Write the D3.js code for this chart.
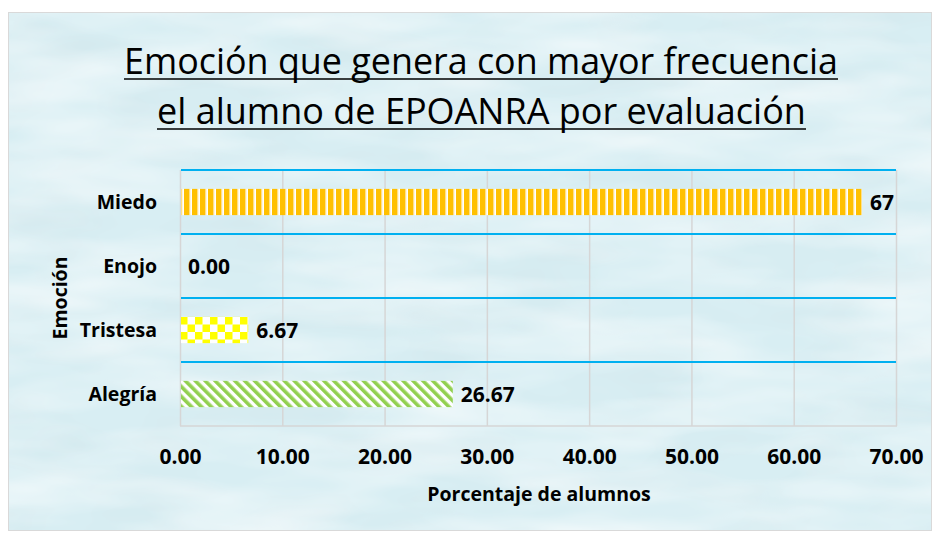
<!DOCTYPE html>
<html><head><meta charset="utf-8">
<script src="https://cdn.jsdelivr.net/npm/d3@7"></script>
<style>
html,body{margin:0;padding:0;background:#fff;}
svg{display:block;}
text{font-family:"Open Sans","Noto Sans",sans-serif;}
</style></head>
<body>
<script>
const categories = ["Miedo", "Enojo", "Tristesa", "Alegría"];
const values = [66.67, 0, 6.67, 26.67];
const valueLabels = ["67", "0.00", "6.67", "26.67"];
const patterns = ["vstripe", "none", "checker", "diag"];
const tickValues = [0, 10, 20, 30, 40, 50, 60, 70];
const titleLines = ["Emoción que genera con mayor frecuencia", "el alumno de EPOANRA por evaluación"];
const xTitle = "Porcentaje de alumnos";
const yTitle = "Emoción";

const W = 940, H = 535;
const svg = d3.select("body").append("svg").attr("width", W).attr("height", H);
const defs = svg.append("defs");

// background texture filter
const f = defs.append("filter").attr("id", "tex").attr("x", 0).attr("y", 0).attr("width", 1).attr("height", 1);
f.append("feTurbulence").attr("type", "fractalNoise").attr("baseFrequency", "0.006 0.025").attr("numOctaves", 3).attr("seed", 7).attr("result", "n");
f.append("feColorMatrix").attr("in", "n").attr("type", "matrix")
  .attr("values", "0 0 0 0 1  0 0 0 0 1  0 0 0 0 1  1.1 0 0 0 -0.38");
const f2 = defs.append("filter").attr("id", "tex2").attr("x", 0).attr("y", 0).attr("width", 1).attr("height", 1);
f2.append("feTurbulence").attr("type", "fractalNoise").attr("baseFrequency", "0.01 0.03").attr("numOctaves", 2).attr("seed", 3).attr("result", "n");
f2.append("feColorMatrix").attr("in", "n").attr("type", "matrix")
  .attr("values", "0 0 0 0 0.62  0 0 0 0 0.76  0 0 0 0 0.80  0.8 0 0 0 -0.34");

// bar patterns
const p1 = defs.append("pattern").attr("id", "vstripe").attr("patternUnits", "userSpaceOnUse").attr("width", 8).attr("height", 8);
p1.append("rect").attr("width", 8).attr("height", 8).attr("fill", "#ffffff");
p1.append("rect").attr("x", 0).attr("width", 5.5).attr("height", 8).attr("fill", "#FFC000");
p1.append("rect").attr("x", 5.5).attr("width", 0.8).attr("height", 8).attr("fill", "#ffe08a");

const p2 = defs.append("pattern").attr("id", "checker").attr("patternUnits", "userSpaceOnUse").attr("width", 15).attr("height", 15).attr("x", 180).attr("y", 317);
p2.append("rect").attr("width", 15).attr("height", 15).attr("fill", "#ffffff");
p2.append("rect").attr("width", 7.5).attr("height", 7.5).attr("fill", "#FFFF00");
p2.append("rect").attr("x", 7.5).attr("y", 7.5).attr("width", 7.5).attr("height", 7.5).attr("fill", "#FFFF00");

const p3 = defs.append("pattern").attr("id", "diag").attr("patternUnits", "userSpaceOnUse").attr("width", 7).attr("height", 7).attr("patternTransform", "rotate(-45)");
p3.append("rect").attr("width", 7).attr("height", 7).attr("fill", "#ffffff");
p3.append("rect").attr("width", 3.6).attr("height", 7).attr("fill", "#92D050");

// chart area
const area = {x: 8, y: 12, w: 924, h: 519};
svg.append("rect").attr("x", area.x).attr("y", area.y).attr("width", area.w).attr("height", area.h).attr("fill", "#d8eef3");
svg.append("rect").attr("x", area.x).attr("y", area.y).attr("width", area.w).attr("height", area.h).attr("filter", "url(#tex2)");
svg.append("rect").attr("x", area.x).attr("y", area.y).attr("width", area.w).attr("height", area.h).attr("filter", "url(#tex)");
svg.append("rect").attr("x", area.x + 0.5).attr("y", area.y + 0.5).attr("width", area.w - 1).attr("height", area.h - 1)
  .attr("fill", "none").attr("stroke", "#d9d9d9").attr("stroke-width", 1);

// title
const titleG = svg.append("g");
const titleBase = [74, 124];
const titleSpan = [[124, 838], [157, 806]];
titleLines.forEach((t, i) => {
  const tx = titleG.append("text").attr("x", (titleSpan[i][0] + titleSpan[i][1]) / 2).attr("y", titleBase[i])
    .attr("text-anchor", "middle").attr("font-size", 30).attr("fill", "#000").text(t);
  const len = tx.node().getComputedTextLength();
  const target = titleSpan[i][1] - titleSpan[i][0];
  tx.attr("font-size", 30 * target / len);
  titleG.append("line").attr("x1", titleSpan[i][0]).attr("x2", titleSpan[i][1])
    .attr("y1", titleBase[i] + 5).attr("y2", titleBase[i] + 5).attr("stroke", "#000").attr("stroke-width", 1.6);
});

// scales
const x = d3.scaleLinear().domain([0, 70]).range([180, 896]);
const y = d3.scaleBand().domain(categories).range([170, 426]).paddingInner(0.59).paddingOuter(0.295);
const step = y.step();

// vertical gridlines
svg.append("g").selectAll("line").data(tickValues).join("line")
  .attr("x1", d => x(d) + 0.5).attr("x2", d => x(d) + 0.5).attr("y1", 170).attr("y2", 426)
  .attr("stroke", "#d6d6d6").attr("stroke-width", 1.5);
// bottom border
svg.append("line").attr("x1", x(0)).attr("x2", x(70) + 1).attr("y1", 426).attr("y2", 426).attr("stroke", "#d6d6d6").attr("stroke-width", 1.5);
// horizontal blue gridlines at category boundaries
svg.append("g").selectAll("line").data(categories).join("line")
  .attr("x1", x(0) + 1).attr("x2", x(70)).attr("y1", d => y(d) - y.paddingOuter() * step).attr("y2", d => y(d) - y.paddingOuter() * step)
  .attr("stroke", "#00B0F0").attr("stroke-width", 2);

// bars
svg.append("g").selectAll("rect").data(categories).join("rect")
  .attr("x", x(0) + 1).attr("y", d => y(d))
  .attr("width", (d, i) => Math.max(0, x(values[i]) - x(0) - 1)).attr("height", y.bandwidth())
  .attr("fill", (d, i) => patterns[i] === "none" ? "none" : `url(#${patterns[i]})`);

// value labels
svg.append("g").selectAll("text").data(categories).join("text")
  .attr("x", (d, i) => x(values[i]) + 8).attr("y", d => y(d) + y.bandwidth() / 2 + 7.5)
  .attr("font-size", 21).attr("font-weight", "bold").attr("fill", "#000")
  .text((d, i) => valueLabels[i]);

// category labels
svg.append("g").selectAll("text").data(categories).join("text")
  .attr("x", 157).attr("y", d => y(d) + y.bandwidth() / 2 + 7)
  .attr("text-anchor", "end").attr("font-size", 19.5).attr("font-weight", "bold").attr("fill", "#000")
  .text(d => d);

// x axis
const xAxis = svg.append("g").attr("transform", "translate(0,447)")
  .call(d3.axisBottom(x).tickValues(tickValues).tickSize(0).tickFormat(d3.format(".2f")));
xAxis.select(".domain").remove();
xAxis.selectAll("text").attr("font-size", 21).attr("font-weight", "bold").attr("fill", "#000")
  .attr("font-family", "'Open Sans', sans-serif").attr("dy", 0).attr("y", 17);

// axis titles
svg.append("text").attr("x", 539).attr("y", 501).attr("text-anchor", "middle")
  .attr("font-size", 19.5).attr("font-weight", "bold").attr("fill", "#000").text(xTitle);
svg.append("text").attr("transform", "translate(67,298) rotate(-90)").attr("text-anchor", "middle")
  .attr("font-size", 19.5).attr("font-weight", "bold").attr("fill", "#000").text(yTitle);
</script>
</body></html>
